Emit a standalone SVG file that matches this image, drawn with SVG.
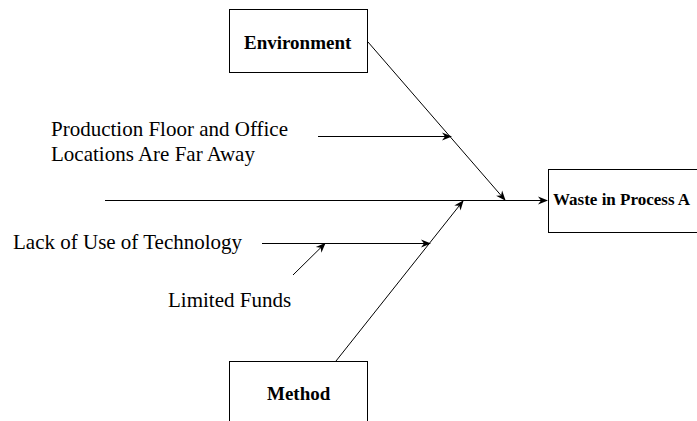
<svg xmlns="http://www.w3.org/2000/svg" width="697" height="421" viewBox="0 0 697 421">
  <style>
    .box { fill: #ffffff; stroke: #000000; stroke-width: 1; }
    .edge { fill: none; stroke: #000000; stroke-width: 1; }
    .lbl { font-family: "Liberation Serif", "Times New Roman", serif; fill: #000000; }
    .cause { font-size: 21px; }
    .head { font-weight: bold; font-size: 19px; }
  </style>
  <defs>
    <marker id="arrow" viewBox="0 0 10 10" refX="9" refY="5" markerWidth="10" markerHeight="10" markerUnits="userSpaceOnUse" orient="auto">
      <path d="M0,1 L10,5 L0,9 L3,5 Z" fill="#000000"/>
    </marker>
  </defs>

  <rect width="697" height="421" fill="#ffffff"/>

  <!-- connectors -->
  <g id="connectors">
    <!-- spine into the effect box -->
    <line class="edge" x1="105" y1="200.5" x2="547" y2="200.5" marker-end="url(#arrow)"/>
    <!-- Environment bone -->
    <line class="edge" x1="368" y1="42" x2="505" y2="200" marker-end="url(#arrow)"/>
    <!-- Method bone -->
    <line class="edge" x1="336" y1="361" x2="463" y2="201" marker-end="url(#arrow)"/>
    <!-- sub-causes -->
    <line class="edge" x1="318" y1="136.5" x2="451" y2="136.5" marker-end="url(#arrow)"/>
    <line class="edge" x1="262" y1="243.5" x2="430" y2="243.5" marker-end="url(#arrow)"/>
    <line class="edge" x1="293" y1="275" x2="325" y2="243.5" marker-end="url(#arrow)"/>
  </g>

  <g id="environment">
    <rect class="box" x="229.5" y="9.5" width="138" height="63"/>
    <text class="lbl head" x="244" y="49">Environment</text>
  </g>

  <g id="method">
    <rect class="box" x="229.5" y="361.5" width="138" height="70"/>
    <text class="lbl head" x="267" y="400">Method</text>
  </g>

  <g id="waste">
    <rect class="box" x="548.5" y="169.5" width="160" height="63"/>
    <text class="lbl head" x="553" y="205" style="font-size:17px">Waste in Process A</text>
  </g>

  <g id="cause-location">
    <text class="lbl cause" x="51" y="136">Production Floor and Office</text>
    <text class="lbl cause" x="51" y="161">Locations Are Far Away</text>
  </g>

  <g id="cause-technology">
    <text class="lbl cause" x="13" y="249">Lack of Use of Technology</text>
  </g>

  <g id="cause-funds">
    <text class="lbl cause" x="168" y="307">Limited Funds</text>
  </g>
</svg>
